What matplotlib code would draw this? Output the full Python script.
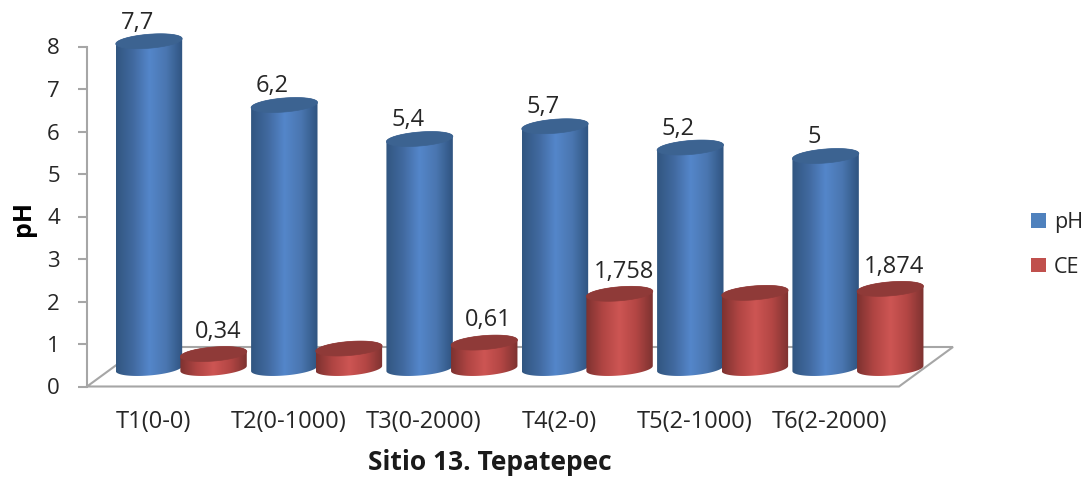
import numpy as np
import matplotlib
matplotlib.use("Agg")
import matplotlib.pyplot as plt
from matplotlib.colors import LinearSegmentedColormap
from matplotlib.patches import Patch, Polygon

plt.rcParams['font.family'] = ['Open Sans', 'DejaVu Sans']

categories = ['T1(0-0)', 'T2(0-1000)', 'T3(0-2000)', 'T4(2-0)', 'T5(2-1000)', 'T6(2-2000)']
ph_values = [7.7, 6.2, 5.4, 5.7, 5.2, 5.0]
ce_values = [0.34, 0.47, 0.61, 1.758, 1.78, 1.874]
ce_labelled = [True, False, True, True, False, True]
y_ticks = [0, 1, 2, 3, 4, 5, 6, 7, 8]

W, H = 1088, 479
DPI = 100
TEXT = '#262626'
AXIS = '#a6a6a6'

# one category is 135.3 px wide, one pH unit 42.5 px tall
PX_X = 1 / 135.3
PX_Y = 1 / 42.5

fig = plt.figure(figsize=(W / DPI, H / DPI), dpi=DPI)
ax = fig.add_axes([87 / W, (H - 386.5) / H, 812 / W, 340 / H])

blue_map = LinearSegmentedColormap.from_list('blue', ['#315680', '#41699f', '#5486ca', '#4a76b0', '#2f5480'])
red_map = LinearSegmentedColormap.from_list('red', ['#7d3230', '#b04543', '#cd5553', '#b34644', '#7d3230'])
gradient = np.linspace(0, 1, 256).reshape(1, -1)


def rim(cx, cy, t):
    # tilted ellipse, the right side sits a little higher than the left
    a = 33.2 * PX_X
    return cx + a * np.cos(t), cy + (7 * np.sin(t) + 2.6 * np.cos(t)) * PX_Y


def cylinder(cx, value, cmap, top_color, z):
    base = 18 * PX_Y
    bx, by = rim(cx, base, np.linspace(np.pi, 2 * np.pi, 60))
    tx, ty = rim(cx, base + value, np.linspace(0, np.pi, 60))
    side = Polygon(np.column_stack([np.r_[bx, tx], np.r_[by, ty]]), closed=True,
                   transform=ax.transData, fc='none', ec='none')
    ax.add_patch(side)
    half = 33.2 * PX_X
    im = ax.imshow(gradient, cmap=cmap, aspect='auto', zorder=z, interpolation='bilinear',
                   extent=[cx - half, cx + half, 0, base + value + 1])
    im.set_clip_box(fig.bbox)
    im.set_clip_path(side)
    lx, ly = rim(cx, base + value, np.linspace(0, 2 * np.pi, 120))
    ax.fill(lx, ly, color=top_color, lw=0.5, zorder=z + 0.5, clip_on=False)
    return base + value


# floor of the 3D box
depth_x, depth_y = 54 * PX_X, 39.5 * PX_Y
ax.plot([0, 6, 6 + depth_x, depth_x, 0], [0, 0, depth_y, depth_y, 0], color=AXIS, lw=1.5,
        zorder=1, clip_on=False, solid_joinstyle='miter')

z = 2
for i in range(len(categories)):
    centre = i + 0.5 + 26.6 * PX_X
    blue_x = centre - 32.3 * PX_X
    red_x = centre + 32.3 * PX_X

    top = cylinder(blue_x, ph_values[i], blue_map, '#3c6391', z)
    ax.annotate(f'{ph_values[i]:g}'.replace('.', ','), (blue_x, top), xytext=(-8.5, 13.5),
                textcoords='offset points', ha='center', va='center',
                fontsize=17, color=TEXT, zorder=50, annotation_clip=False)

    top = cylinder(red_x, ce_values[i], red_map, '#8f3a38', z + 1)
    if ce_labelled[i]:
        ax.annotate(f'{ce_values[i]:g}'.replace('.', ','), (red_x, top), xytext=(3, 16),
                    textcoords='offset points', ha='center', va='center',
                    fontsize=17, color=TEXT, zorder=50, annotation_clip=False)
    z += 2

ax.set_xlim(0, 6)
ax.set_ylim(0, 8)
ax.set_yticks(y_ticks)
ax.set_xticks(np.arange(len(categories)) + 0.49)
ax.set_xticklabels(categories)
ax.tick_params(axis='x', length=0, pad=17, labelsize=17, labelcolor=TEXT)
ax.tick_params(axis='y', length=6.5, width=1.5, color=AXIS, pad=13, labelsize=16, labelcolor=TEXT)

for name in ['top', 'right', 'bottom']:
    ax.spines[name].set_visible(False)
ax.spines['left'].set_color(AXIS)
ax.spines['left'].set_linewidth(1.5)
ax.patch.set_visible(False)

fig.text(24 / W, 1 - 218 / H, 'pH', rotation=90, ha='center', va='center',
         fontsize=18, fontweight='bold', color='black')
fig.text(490 / W, 1 - 462 / H, 'Sitio 13. Tepatepec', ha='center', va='center',
         fontsize=19, fontweight='bold', color='#1a1a1a')

handles = [Patch(fc='#4f81bd', label='pH'), Patch(fc='#c0504d', label='CE')]
fig.legend(handles=handles, loc='center left', bbox_to_anchor=(1012 / W, 1 - 245 / H), frameon=False,
           fontsize=15.5, labelcolor=TEXT, handlelength=0.7, handleheight=0.65,
           handletextpad=0.35, labelspacing=1.1)

fig.savefig('out.png', dpi=DPI)
